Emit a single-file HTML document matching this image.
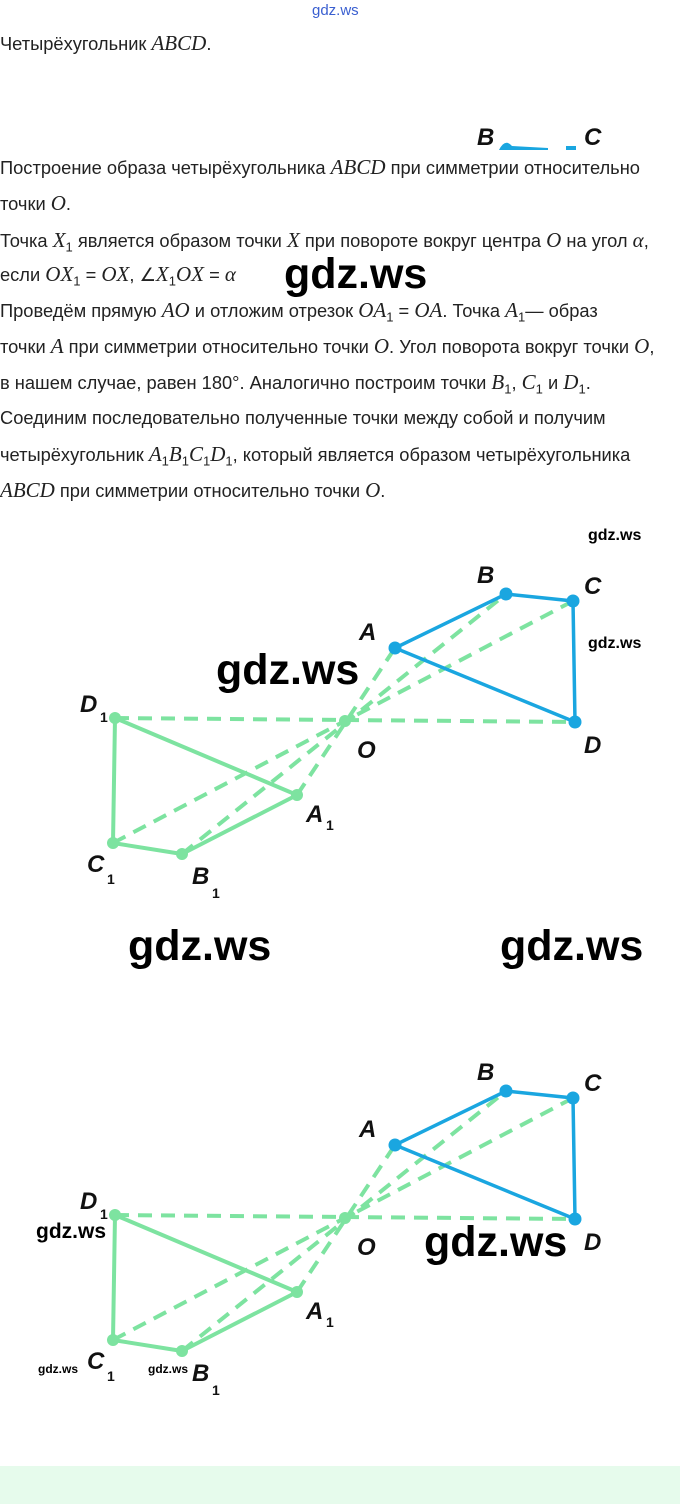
<!DOCTYPE html>
<html><head><meta charset="utf-8"><style>
body{margin:0;width:680px;height:1504px;position:relative;background:#fff;font-family:"Liberation Sans",sans-serif;color:#222;overflow:hidden}
.t{position:absolute;left:0;font-size:18.3px;white-space:nowrap;line-height:20px}
.m{font-family:"Liberation Serif",serif;font-style:italic;font-size:21px}
sub{font-size:13px}
.w{position:absolute;font-family:"Liberation Sans",sans-serif;font-weight:bold;color:#000;white-space:nowrap}
.L{font-family:"Liberation Sans",sans-serif;font-style:italic;font-weight:bold;font-size:24px;fill:#111}
.s{font-family:"Liberation Sans",sans-serif;font-weight:bold;font-size:14px;fill:#111}
</style></head><body>
<div class="w" style="left:312px;top:2px;font-size:15px;font-weight:normal;color:#3a5fd0">gdz.ws</div>
<div class="t" style="top:33px">Четырёхугольник <span class="m">ABCD</span>.</div>
<div class="t" style="top:157px">Построение образа четырёхугольника <span class="m">ABCD</span> при симметрии относительно</div>
<div class="t" style="top:193px">точки <span class="m">O</span>.</div>
<div class="t" style="top:230px">Точка <span class="m">X</span><sub>1</sub> является образом точки <span class="m">X</span> при повороте вокруг центра <span class="m">O</span> на угол <span class="m">α</span>,</div>
<div class="t" style="top:264px">если <span class="m">OX</span><sub>1</sub> = <span class="m">OX</span>, ∠<span class="m">X</span><sub>1</sub><span class="m">OX</span> = <span class="m">α</span></div>
<div class="t" style="top:300px">Проведём прямую <span class="m">AO</span> и отложим отрезок <span class="m">OA</span><sub>1</sub> = <span class="m">OA</span>. Точка <span class="m">A</span><sub>1</sub>— образ</div>
<div class="t" style="top:336px">точки <span class="m">A</span> при симметрии относительно точки <span class="m">O</span>. Угол поворота вокруг точки <span class="m">O</span>,</div>
<div class="t" style="top:372px">в нашем случае, равен 180°. Аналогично построим точки <span class="m">B</span><sub>1</sub>, <span class="m">C</span><sub>1</sub> и <span class="m">D</span><sub>1</sub>.</div>
<div class="t" style="top:408px">Соединим последовательно полученные точки между собой и получим</div>
<div class="t" style="top:444px">четырёхугольник <span class="m">A</span><sub>1</sub><span class="m">B</span><sub>1</sub><span class="m">C</span><sub>1</sub><span class="m">D</span><sub>1</sub>, который является образом четырёхугольника</div>
<div class="t" style="top:480px"><span class="m">ABCD</span> при симметрии относительно точки <span class="m">O</span>.</div>

<svg width="680" height="1504" style="position:absolute;left:0;top:0">
<defs>
<g id="fig">
<g stroke="#7de3a0" stroke-width="4" stroke-dasharray="14,9" fill="none">
<line x1="115" y1="718" x2="575" y2="722"/>
<line x1="297" y1="795" x2="395" y2="648"/>
<line x1="182" y1="854" x2="506" y2="594"/>
<line x1="113" y1="843" x2="573" y2="601"/>
</g>
<g stroke="#7de3a0" stroke-width="4" fill="none" stroke-linejoin="round">
<polygon points="297,795 182,854 113,843 115,718"/>
</g>
<g stroke="#1aa6e0" stroke-width="3.5" fill="none">
<polyline points="575,722 395,648 506,594 573,601 575,722"/>
</g>
<g fill="#7de3a0"><circle cx="115" cy="718" r="6"/><circle cx="113" cy="843" r="6"/><circle cx="182" cy="854" r="6"/><circle cx="297" cy="795" r="6"/><circle cx="345" cy="721" r="6"/></g>
<g fill="#1aa6e0"><circle cx="395" cy="648" r="6.5"/><circle cx="506" cy="594" r="6.5"/><circle cx="573" cy="601" r="6.5"/><circle cx="575" cy="722" r="6.5"/></g>
<text class="L" x="477" y="583">B</text><text class="L" x="584" y="594">C</text><text class="L" x="359" y="640">A</text><text class="L" x="584" y="753">D</text><text class="L" x="357" y="758">O</text>
<text class="L" x="80" y="712">D</text><text class="s" x="100" y="722">1</text>
<text class="L" x="87" y="872">C</text><text class="s" x="107" y="884">1</text>
<text class="L" x="192" y="884">B</text><text class="s" x="212" y="898">1</text>
<text class="L" x="306" y="822">A</text><text class="s" x="326" y="830">1</text>
</g>
</defs>
<use href="#fig"/>
<use href="#fig" transform="translate(0,497)"/>
<rect x="470" y="110" width="160" height="40" fill="#fff"/>
<text class="L" x="477" y="145">B</text><text class="L" x="584" y="145">C</text>
<path d="M499,150 Q505,138 512,146 L548,148 L548,150 Z" fill="#1aa6e0"/>
<rect x="566" y="146" width="10" height="4" fill="#1aa6e0"/>
</svg>

<div class="w" style="left:284px;top:250px;font-size:43px">gdz.ws</div>
<div class="w" style="left:588px;top:527px;font-size:16px">gdz.ws</div>
<div class="w" style="left:588px;top:635px;font-size:16px">gdz.ws</div>
<div class="w" style="left:216px;top:646px;font-size:43px">gdz.ws</div>
<div class="w" style="left:128px;top:922px;font-size:43px">gdz.ws</div>
<div class="w" style="left:500px;top:922px;font-size:43px">gdz.ws</div>
<div class="w" style="left:36px;top:1220px;font-size:21px">gdz.ws</div>
<div class="w" style="left:424px;top:1218px;font-size:43px">gdz.ws</div>
<div class="w" style="left:38px;top:1362px;font-size:12px">gdz.ws</div>
<div class="w" style="left:148px;top:1362px;font-size:12px">gdz.ws</div>
<div style="position:absolute;left:0;top:1466px;width:680px;height:38px;background:#e6fbec"></div>
</body></html>
